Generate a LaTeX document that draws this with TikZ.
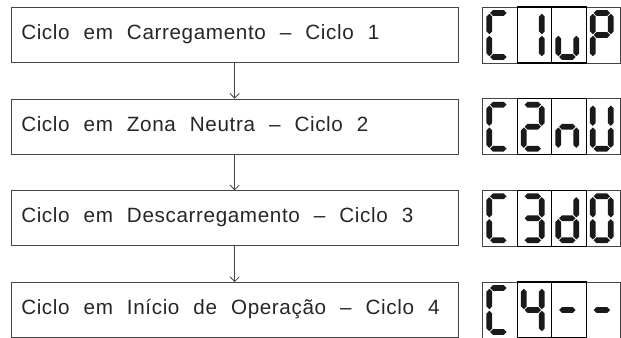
\documentclass[tikz,border=0pt]{standalone}
\usepackage{fontspec}
\setmainfont{Liberation Sans}
\newfontfamily\cadfont[LetterSpace=3,WordSpace=2.2]{Liberation Sans}
\usetikzlibrary{arrows.meta}
\definecolor{boxline}{HTML}{444444}
\definecolor{segcol}{HTML}{1A1A1A}
\newcommand\sgg{0.8}
\newcommand\sgt{2.9}
\newcommand\segL{6.6}
\newcommand\segR{24.6}
\newcommand\segT{6.0}
\newcommand\segM{28.0}
\newcommand\segB{50.0}
\newcommand\hseg[3]{\fill[segfill] ({#1+\sgg},{#3}) -- ({#1+\sgg+\sgt},{#3-\sgt}) -- ({#2-\sgg-\sgt},{#3-\sgt}) -- ({#2-\sgg},{#3}) -- ({#2-\sgg-\sgt},{#3+\sgt}) -- ({#1+\sgg+\sgt},{#3+\sgt}) -- cycle;}
\newcommand\vseg[3]{\fill[segfill] ({#1},{#2+\sgg}) -- ({#1+\sgt},{#2+\sgg+\sgt}) -- ({#1+\sgt},{#3-\sgg-\sgt}) -- ({#1},{#3-\sgg}) -- ({#1-\sgt},{#3-\sgg-\sgt}) -- ({#1-\sgt},{#2+\sgg+\sgt}) -- cycle;}
\newcommand\SA{\hseg{\segL}{\segR}{\segT}}
\newcommand\SB{\vseg{\segR}{\segT}{\segM}}
\newcommand\SC{\vseg{\segR}{\segM}{\segB}}
\newcommand\SD{\hseg{\segL}{\segR}{\segB}}
\newcommand\SE{\vseg{\segL}{\segM}{\segB}}
\newcommand\SF{\vseg{\segL}{\segT}{\segM}}
\newcommand\SG{\hseg{\segL}{\segR}{\segM}}
\newcommand\dcell[3]{\begin{scope}[shift={(#1,#2)}]#3\end{scope}}
\newcommand\disp[6]{%
  \draw[dispout] (482.7,#1) rectangle (620.5,#1+56);
  \draw[dispin] (517.2,#1) rectangle (551.7,#1+56);
  \draw[dispin] (551.7,#1) rectangle (586.2,#1+56);
  \dcell{482.7}{#1}{#3}\dcell{517.2}{#1}{#4}\dcell{551.7}{#1}{#5}\dcell{586.2}{#1}{#6}%
  \node[coordinate] (#2) at (551.6,#1+28) {};}
\begin{document}
\begin{tikzpicture}[x=0.75pt,y=-0.75pt,
  segfill/.style={fill=segcol},
  cycbox/.style={draw=boxline,line width=0.7pt,minimum width=447pt*0.75,minimum height=55pt*0.75,inner sep=0pt,anchor=north west},
  cyctext/.style={anchor=base west,inner sep=0pt,font=\cadfont\fontsize{15.5pt}{17pt}\selectfont,text=black!85},
  dispout/.style={draw=boxline,line width=0.6pt},
  dispin/.style={draw=black,line width=0.9pt},
  flow/.style={draw=boxline,line width=0.6pt,-{Straight Barb[length=3.5pt,width=7pt,line width=0.6pt]}}]
\useasboundingbox (0,0) rectangle (621,338);
\node[cycbox] (b1) at (10.7,7) {};
\node[cycbox] (b2) at (10.7,98.7) {};
\node[cycbox] (b3) at (10.7,190.3) {};
\node[cycbox] (b4) at (10.7,282) {};
\node[cyctext] (t1) at (21,39.5) {Ciclo em Carregamento – Ciclo 1};
\node[cyctext] (t2) at (21,131.2) {Ciclo em Zona Neutra – Ciclo 2};
\node[cyctext] (t3) at (21,222.8) {Ciclo em Descarregamento – Ciclo 3};
\node[cyctext] (t4) at (21,314.5) {Ciclo em Início de Operação – Ciclo 4};
\draw[flow] (b1.south) -- (b2.north);
\draw[flow] (b2.south) -- (b3.north);
\draw[flow] (b3.south) -- (b4.north);
\disp{7}{d1}{\SA\SF\SE\SD}{\SB\SC}{\SE\SD\SC}{\SA\SB\SF\SG\SE}
\disp{98.7}{d2}{\SA\SF\SE\SD}{\SA\SB\SG\SE\SD}{\SG\SE\SC}{\SF\SE\SD\SC\SB}
\disp{190.3}{d3}{\SA\SF\SE\SD}{\SA\SB\SG\SC\SD}{\SB\SC\SG\SE\SD}{\SA\SB\SC\SD\SE\SF}
\disp{282}{d4}{\SA\SF\SE\SD}{\SF\SG\SB\SC}{\SG}{\SG}
\end{tikzpicture}
\end{document}
